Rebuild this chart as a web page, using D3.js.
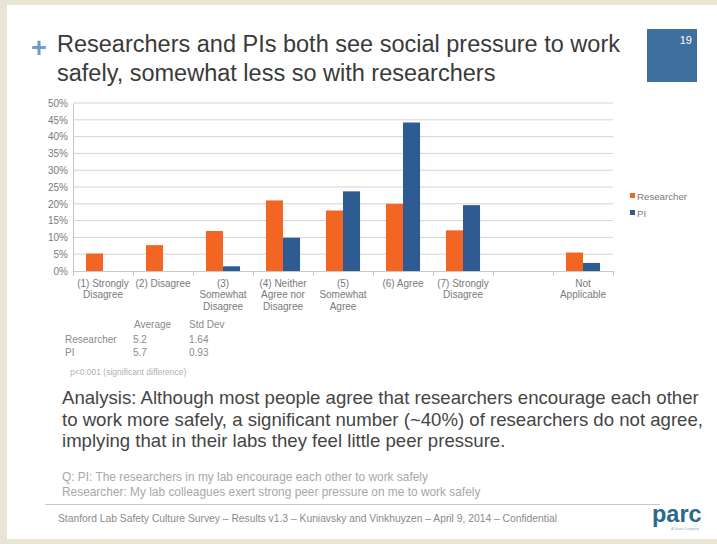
<!DOCTYPE html>
<html><head><meta charset="utf-8">
<script src="https://cdn.jsdelivr.net/npm/d3@7/dist/d3.min.js"></script>
<style>body{margin:0;background:#fff;}svg{display:block;font-family:"Liberation Sans",Arial,sans-serif;}</style>
</head><body>
<svg id="c" width="717" height="544"></svg>
<script>
const categories = ["(1) Strongly|Disagree","(2) Disagree","(3)|Somewhat|Disagree","(4) Neither|Agree nor|Disagree","(5)|Somewhat|Agree","(6) Agree","(7) Strongly|Disagree","","Not|Applicable"];
const researcher = [5.2, 7.7, 11.9, 21.0, 18.0, 20.0, 12.1, null, 5.5];
const pi = [0, 0, 1.4, 9.9, 23.7, 44.2, 19.6, null, 2.4];
const seriesNames = ["Researcher","PI"];
const yTicks = [0,5,10,15,20,25,30,35,40,45,50];
const tableHeader = ["Average","Std Dev"];
const tableRows = [["Researcher","5.2","1.64"],["PI","5.7","0.93"]];

const svg = d3.select("#c");
const colors = ["#f26522","#2e5b91"];

// slide frame
svg.append("rect").attr("x",0).attr("y",0).attr("width",717).attr("height",544).attr("fill","#e9e4d4");
svg.append("rect").attr("x",7).attr("y",5).attr("width",710).attr("height",534).attr("fill","#fff");

// title
svg.append("text").attr("x",31).attr("y",57).attr("fill","#6b9dcb").attr("font-size",27).attr("font-weight","bold").text("+");
const title = svg.append("text").attr("fill","#3a3a3a").attr("font-size",23.5);
title.append("tspan").attr("x",57).attr("y",52).text("Researchers and PIs both see social pressure to work");
title.append("tspan").attr("x",57).attr("y",81).text("safely, somewhat less so with researchers");
svg.append("rect").attr("x",647).attr("y",29).attr("width",50).attr("height",53).attr("fill","#3e6f9e");
svg.append("text").attr("x",692).attr("y",44).attr("text-anchor","end").attr("fill","#fff").attr("font-size",11).text("19");

// chart
const m = {l:73, r:613, t:103, b:271};
const x0 = d3.scaleBand().domain(d3.range(categories.length)).range([m.l,m.r]);
const x1 = d3.scaleBand().domain([0,1]).range([0,x0.bandwidth()]).paddingInner(0).paddingOuter(0.76);
const y = d3.scaleLinear().domain([0,50]).range([m.b,m.t]);
const g = svg.append("g");

g.selectAll("line.grid").data(yTicks.slice(1)).join("line")
  .attr("x1",m.l).attr("x2",m.r).attr("y1",d=>y(d)).attr("y2",d=>y(d))
  .attr("stroke","#d4d4d4").attr("stroke-width",1);

const yAxis = d3.axisLeft(y).tickValues(yTicks).tickFormat(d=>d+"%").tickSize(0).tickPadding(5);
const ya = g.append("g").attr("transform",`translate(${m.l},0)`).call(yAxis);
ya.select(".domain").attr("stroke","#c8c8c8");
ya.selectAll("text").attr("fill","#7a7a7a").attr("font-size",10).attr("font-family","Liberation Sans, Arial, sans-serif");

const series = [researcher, pi];
series.forEach((vals,si)=>{
  g.selectAll("rect.s"+si).data(vals.map((v,i)=>({v,i})).filter(d=>d.v!==null && d.v>0)).join("rect")
    .attr("x",d=>x0(d.i)+x1(si)).attr("width",x1.bandwidth())
    .attr("y",d=>y(d.v)).attr("height",d=>y(0)-y(d.v)).attr("fill",colors[si]);
});

// x axis
g.append("line").attr("x1",m.l).attr("x2",m.r).attr("y1",y(0)+0.5).attr("y2",y(0)+0.5).attr("stroke","#c8c8c8");
const bounds = d3.range(categories.length+1).map(i=> i<categories.length ? x0(i) : m.r);
g.selectAll("line.tk").data(bounds).join("line")
  .attr("x1",d=>d+0.5).attr("x2",d=>d+0.5).attr("y1",y(0)).attr("y2",y(0)+5).attr("stroke","#c8c8c8");
categories.forEach((c,i)=>{
  const t = g.append("text").attr("text-anchor","middle").attr("fill","#7a7a7a").attr("font-size",10);
  c.split("|").forEach((ln,j)=>{
    if(ln) t.append("tspan").attr("x",x0(i)+x0.bandwidth()/2).attr("y",287+j*11.3).text(ln);
  });
});

// legend
seriesNames.forEach((n,i)=>{
  svg.append("rect").attr("x",630).attr("y",193+i*17).attr("width",5).attr("height",5).attr("fill",colors[i]);
  svg.append("text").attr("x",637).attr("y",199.5+i*17).attr("fill","#7a7a7a").attr("font-size",9.7).text(n);
});

// stats table
const tb = svg.append("g").attr("fill","#8a8a8a").attr("font-size",10);
tb.append("text").attr("x",134).attr("y",327.5).text(tableHeader[0]);
tb.append("text").attr("x",189).attr("y",327.5).text(tableHeader[1]);
tableRows.forEach((r,i)=>{
  tb.append("text").attr("x",65).attr("y",342.5+i*13.5).text(r[0]);
  tb.append("text").attr("x",133).attr("y",342.5+i*13.5).text(r[1]);
  tb.append("text").attr("x",189).attr("y",342.5+i*13.5).text(r[2]);
});
svg.append("text").attr("x",70).attr("y",375).attr("fill","#b0b0b0").attr("font-size",8.5).text("p<0.001 (significant difference)");

// analysis
const an = svg.append("text").attr("fill","#454545").attr("font-size",18.6);
["Analysis: Although most people agree that researchers encourage each other",
 "to work more safely, a significant number (~40%) of researchers do not agree,",
 "implying that in their labs they feel little peer pressure."].forEach((l,i)=>{
  an.append("tspan").attr("x",62).attr("y",404+i*21.5).text(l);
});

// question
const q = svg.append("text").attr("fill","#a8a8a8").attr("font-size",11.9);
q.append("tspan").attr("x",62).attr("y",481).text("Q: PI: The researchers in my lab encourage each other to work safely");
q.append("tspan").attr("x",62).attr("y",495.5).text("Researcher: My lab colleagues exert strong peer pressure on me to work safely");

// footer
svg.append("line").attr("x1",45).attr("x2",660).attr("y1",504.5).attr("y2",504.5).attr("stroke","#c8c8c8");
svg.append("text").attr("x",58).attr("y",521.5).attr("fill","#8a8a8a").attr("font-size",10.3)
  .text("Stanford Lab Safety Culture Survey –  Results v1.3 – Kuniavsky and Vinkhuyzen – April 9, 2014 – Confidential");
svg.append("text").attr("x",652).attr("y",522).attr("fill","#2b6a8c").attr("font-size",23.5).attr("font-weight","bold").text("parc");
svg.append("text").attr("x",671).attr("y",530).attr("fill","#9ab").attr("font-size",3.5).text("A Xerox Company");
</script>
</body></html>
